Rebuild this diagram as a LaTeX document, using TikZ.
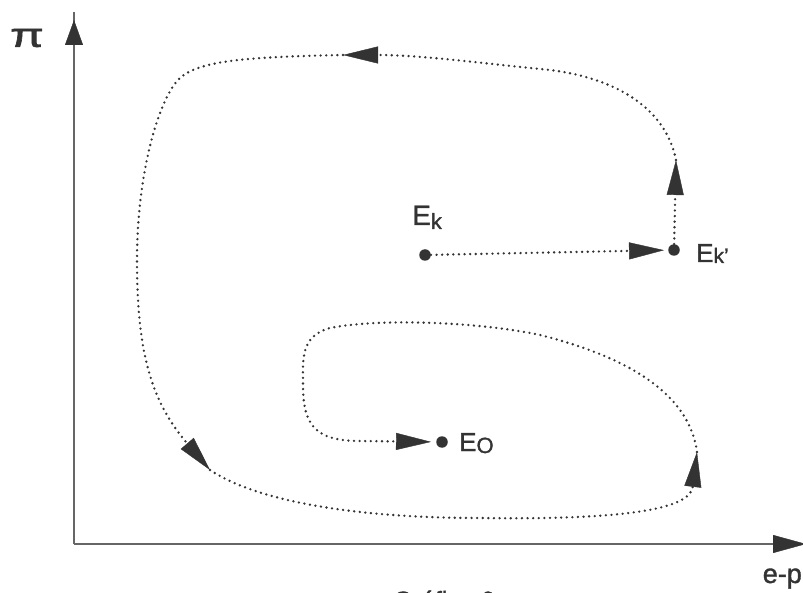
\documentclass[tikz,border=0pt]{standalone}
\usepackage{fontspec}
\setmainfont{Liberation Sans}[BoldFont=Liberation Sans, BoldFeatures={FakeBold=1.3}]
\usetikzlibrary{arrows.meta}
\definecolor{ink}{HTML}{333333}
\definecolor{axisc}{HTML}{666666}
\begin{document}
\begin{tikzpicture}[x=1pt,y=-1pt,
  dotline/.style={draw=ink, line width=2.6pt, line cap=round, dash pattern=on 0pt off 5.6pt},
  arrowed/.style={-{Triangle[length=35pt,width=17pt,line width=0.4pt]}},
  axisline/.style={draw=axisc, line width=1.5pt},
  axistip/.style={-{Triangle[length=#1,width=18pt,line width=0.4pt,color=ink]}},
  dotnode/.style={circle, fill=ink, inner sep=0pt, minimum size=11.5pt},
  lab/.style={font=\fontsize{28}{28}\selectfont\bfseries, text=ink, inner sep=0pt},
]
\useasboundingbox (0,0) rectangle (803,593);
% axes
\coordinate (o) at (74,544);
\coordinate (ytop) at (74,12);
\coordinate (ytip) at (74,20);
\coordinate (xtip) at (806,544);
\draw[axisline] (o) -- (ytop);
\draw[axisline, axistip=25pt] (o) -- (ytip);
\draw[axisline, axistip=33pt] (o) -- (xtip);
\node[text=ink, inner sep=0pt] (pi) at (27,38) {\fontsize{34}{34}\selectfont\bfseries\scalebox{1.45}[1]{π}};
\node[lab, anchor=base east, font=\fontsize{27}{27}\selectfont\bfseries] (ep) at (802,583) {e-p};
\node[lab, anchor=base west, font=\fontsize{25}{25}\selectfont\bfseries] (cap) at (393,609) {Gráfico 6};
% points
\node[dotnode] (ek) at (425,255) {};
\node[dotnode] (ekp) at (674,250) {};
\node[dotnode] (eo) at (442,442) {};
\node[lab, anchor=base west] (ekl) at (412,225) {E\raisebox{-4pt}{\fontsize{22}{22}\selectfont k}};
\node[lab, anchor=base west, font=\fontsize{26}{26}\selectfont\bfseries] (ekpl) at (696,262) {E\raisebox{-1pt}{\fontsize{21}{21}\selectfont k'}};
\node[lab, anchor=base west, font=\fontsize{26}{26}\selectfont\bfseries] (eol) at (459,451) {E\raisebox{-2pt}{\fontsize{22}{22}\selectfont O}};
% path waypoints
\coordinate (a1) at (676,160);
\coordinate (a2) at (343,55);
\coordinate (a3) at (210,470);
\coordinate (a4) at (697,452);
% trajectory
\draw[dotline, arrowed, shorten >=4pt] (ek) -- (ekp);
\draw[dotline, arrowed] (ekp) -- (a1);
\draw[dotline, arrowed] (a1) .. controls (665,105) and (610,75) .. (540,69)
  .. controls (480,63) and (420,55) .. (a2);
\draw[dotline, arrowed] (a2) .. controls (250,57) and (200,60) .. (180,78)
  .. controls (160,96) and (137,170) .. (137,260)
  .. controls (137,350) and (150,400) .. (a3);
\draw[dotline, arrowed] (a3) .. controls (255,500) and (350,518) .. (480,518)
  .. controls (620,520) and (690,510) .. (a4);
\draw[dotline, arrowed, shorten >=5pt] (a4) .. controls (690,400) and (640,360) .. (540,335)
  .. controls (480,322) and (380,318) .. (330,328)
  .. controls (300,336) and (303,360) .. (303,385)
  .. controls (303,425) and (315,441) .. (360,441) -- (eo);
\end{tikzpicture}
\end{document}
